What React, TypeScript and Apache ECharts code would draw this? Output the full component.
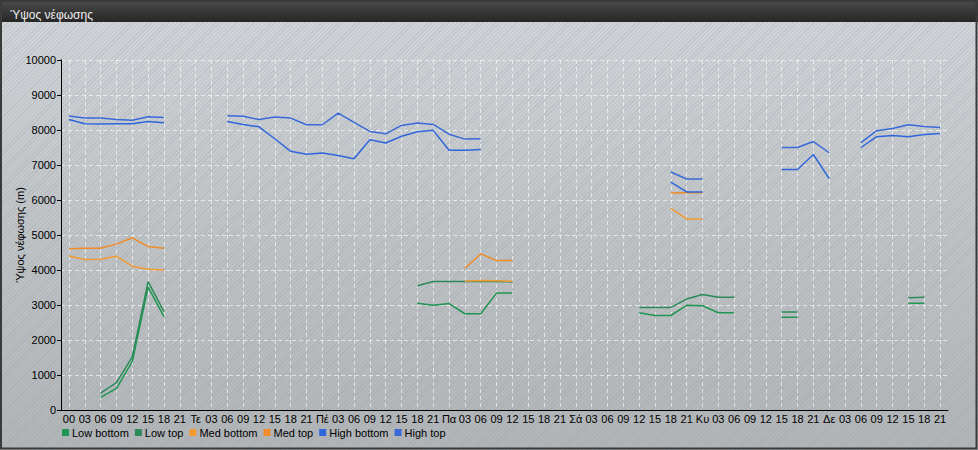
import React, { useEffect, useRef } from 'react';
import * as echarts from 'echarts';

const _ = null;

const categories = [
  '00', '03', '06', '09', '12', '15', '18', '21',
  'Τε', '03', '06', '09', '12', '15', '18', '21',
  'Πέ', '03', '06', '09', '12', '15', '18', '21',
  'Πα', '03', '06', '09', '12', '15', '18', '21',
  'Σά', '03', '06', '09', '12', '15', '18', '21',
  'Κυ', '03', '06', '09', '12', '15', '18', '21',
  'Δε', '03', '06', '09', '12', '15', '18', '21',
];

const lowBottom = [
  _, _, 360, 620, 1380, 3510, 2670, _,
  _, _, _, _, _, _, _, _,
  _, _, _, _, _, _, 3050, 2990,
  3040, 2750, 2750, 3340, 3340, _, _, _,
  _, _, _, _, 2780, 2700, 2700, 2990,
  2980, 2780, 2780, _, _, 2650, 2650, _,
  _, _, _, _, _, 3050, 3050, _,
];

const lowTop = [
  _, _, 480, 780, 1520, 3670, 2810, _,
  _, _, _, _, _, _, _, _,
  _, _, _, _, _, _, 3550, 3670,
  3670, 3670, 3680, 3670, 3660, _, _, _,
  _, _, _, _, 2930, 2930, 2930, 3170,
  3300, 3220, 3220, _, _, 2800, 2800, _,
  _, _, _, _, _, 3210, 3220, _,
];

const medBottom = [
  4400, 4300, 4310, 4390, 4110, 4020, 4000, _,
  _, _, _, _, _, _, _, _,
  _, _, _, _, _, _, _, _,
  _, 3680, 3700, 3690, 3680, _, _, _,
  _, _, _, _, _, _, 5760, 5460,
  5460, _, _, _, _, _, _, _,
  _, _, _, _, _, _, _, _,
];

const medTop = [
  4610, 4620, 4620, 4740, 4920, 4670, 4620, _,
  _, _, _, _, _, _, _, _,
  _, _, _, _, _, _, _, _,
  _, 4050, 4460, 4270, 4270, _, _, _,
  _, _, _, _, _, _, 6200, 6210,
  6210, _, _, _, _, _, _, _,
  _, _, _, _, _, _, _, _,
];

const highBottom = [
  8300, 8180, 8170, 8180, 8180, 8240, 8210, _,
  _, _, 8240, 8160, 8090, 7750, 7390, 7310,
  7340, 7270, 7180, 7720, 7630, 7820, 7950, 7990,
  7420, 7420, 7440, _, _, _, _, _,
  _, _, _, _, _, _, 6510, 6230,
  6230, _, _, _, _, 6870, 6870, 7300,
  6610, _, 7500, 7810, 7840, 7810, 7870, 7900,
];

const highTop = [
  8400, 8340, 8340, 8300, 8280, 8380, 8360, _,
  _, _, 8410, 8390, 8300, 8370, 8340, 8150,
  8150, 8480, 8220, 7960, 7890, 8130, 8200, 8160,
  7880, 7740, 7750, _, _, _, _, _,
  _, _, _, _, _, _, 6800, 6600,
  6600, _, _, _, _, 7500, 7500, 7670,
  7350, _, 7640, 7980, 8040, 8150, 8100, 8070,
];

const seriesNames = ['Low bottom', 'Low top', 'Med bottom', 'Med top', 'High bottom', 'High top'];
const seriesColors = ['#1f9652', '#2a8a5a', '#f39a32', '#f08c2a', '#2f66dc', '#3a6ad8'];
const seriesData = [lowBottom, lowTop, medBottom, medTop, highBottom, highTop];

const FONT = '"Liberation Sans", Arial, sans-serif';

export default function App() {
  const ref = useRef<HTMLDivElement>(null);
  useEffect(() => {
    const chart = echarts.init(ref.current as HTMLDivElement, null, { renderer: 'svg' });
    chart.setOption({
      animation: false,
      backgroundColor: 'transparent',
      textStyle: { fontFamily: FONT },
      title: {
        text: 'Ύψος νέφωσης',
        left: 5,
        top: 4,
        textStyle: { color: '#eeeeee', fontSize: 12, fontWeight: 'normal', fontFamily: FONT },
        z: 20,
      },
      graphic: [
        {
          type: 'rect',
          z: -1,
          shape: { x: 0, y: 0, width: 978, height: 22 },
          style: {
            fill: new echarts.graphic.LinearGradient(0, 0, 0, 1, [
              { offset: 0, color: '#4c4c4c' },
              { offset: 1, color: '#262626' },
            ]),
          },
        },
        {
          type: 'rect',
          z: 100,
          silent: true,
          shape: { x: 1, y: 1, width: 975.5, height: 447.5 },
          style: { fill: 'none', stroke: '#3a3a3a', lineWidth: 2 },
        },
      ],
      legend: {
        data: seriesNames,
        left: 57,
        top: 422,
        icon: 'rect',
        itemWidth: 7,
        itemHeight: 7,
        itemGap: 6,
        textStyle: { color: '#000', fontSize: 11, fontFamily: FONT, padding: [0, 0, 0, -2] },
      },
      grid: { left: 61, right: 30, top: 60, bottom: 40, containLabel: false, outerBoundsMode: 'none' },
      xAxis: {
        type: 'category',
        data: categories,
        boundaryGap: true,
        axisLine: { lineStyle: { color: '#000', width: 1 } },
        axisTick: { alignWithLabel: true, interval: 0, length: 5, lineStyle: { color: '#000' } },
        axisLabel: { interval: 0, color: '#000', fontSize: 11, margin: 3, fontFamily: FONT },
        splitLine: {
          show: true,
          interval: 0,
          alignWithLabel: true,
          lineStyle: { color: 'rgba(255,255,255,0.6)', type: [4, 3], width: 1 },
        },
      },
      yAxis: {
        type: 'value',
        min: 0,
        max: 10000,
        interval: 1000,
        name: 'Ύψος νέφωσης (m)',
        nameLocation: 'middle',
        nameGap: 36,
        nameMoveOverlap: false,
        nameTextStyle: { color: '#000', fontSize: 11, fontFamily: FONT },
        axisLine: { show: true, lineStyle: { color: '#000', width: 1 } },
        axisTick: { show: true, length: 4, lineStyle: { color: '#000' } },
        axisLabel: {
          color: '#000',
          fontSize: 11,
          margin: 5,
          fontFamily: FONT,
          formatter: (v: number) => String(v),
        },
        splitLine: {
          show: true,
          lineStyle: { color: 'rgba(255,255,255,0.6)', type: [4, 3], width: 1 },
        },
      },
      series: seriesNames.map((name, i) => ({
        name,
        type: 'line',
        data: seriesData[i],
        showSymbol: false,
        symbol: 'none',
        connectNulls: false,
        color: seriesColors[i],
        lineStyle: { color: seriesColors[i], width: 1.5 },
      })),
    });
    return () => chart.dispose();
  }, []);
  return (
    <div
      ref={ref}
      style={{
        position: 'fixed',
        left: 0,
        top: 0,
        width: 978,
        height: 450,
        background:
          'repeating-linear-gradient(135deg, rgba(140,150,160,0.22) 0px, rgba(140,150,160,0.22) 1px, rgba(255,255,255,0) 1px, rgba(255,255,255,0) 3px), linear-gradient(to bottom, #d2d6da 0%, #c0c4c7 50%, #b2b5b7 100%)',
      }}
    />
  );
}
